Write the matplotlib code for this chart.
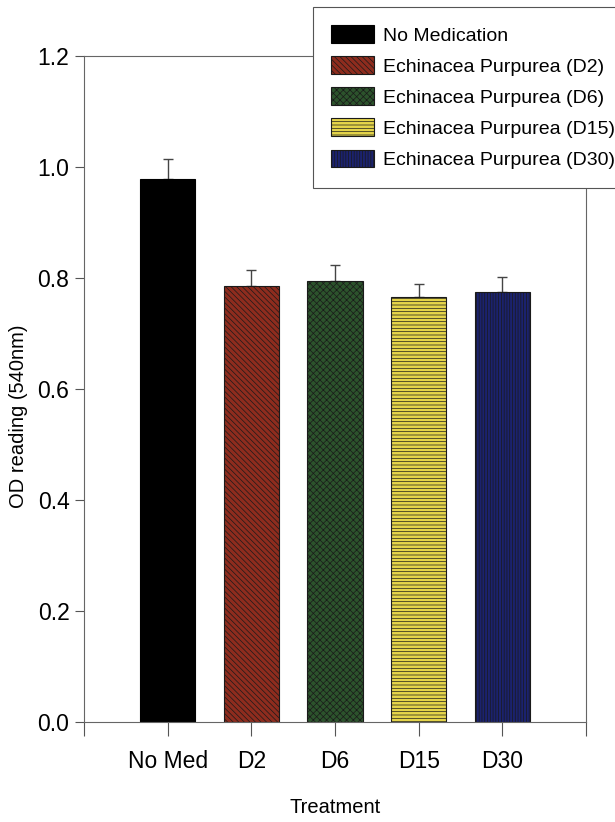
import matplotlib
matplotlib.use("Agg")
import matplotlib.pyplot as plt

categories = ["No Med", "D2", "D6", "D15", "D30"]
legend_labels = ["No Medication", "Echinacea Purpurea (D2)", "Echinacea Purpurea (D6)",
                 "Echinacea Purpurea (D15)", "Echinacea Purpurea (D30)"]
values = [0.978, 0.786, 0.795, 0.765, 0.774]
errors = [0.036, 0.028, 0.028, 0.024, 0.027]
colors = ["#000000", "#8e2c1e", "#2c532c", "#e4d44a", "#1b226e"]
hatches = [None, "\\\\\\\\\\\\", "xxxxx", "-----", "||||||"]
yticks = [0.0, 0.2, 0.4, 0.6, 0.8, 1.0, 1.2]

plt.rcParams['font.family'] = ['Liberation Sans', 'DejaVu Sans']
plt.rcParams['hatch.linewidth'] = 0.5

fig = plt.figure(figsize=(6.15, 8.22), dpi=100)
ax = fig.add_axes([84/615, 1-722/822, 502/615, 666.3/822])

x = list(range(1, len(categories)+1))
for i in range(len(categories)):
    ax.bar(x[i], values[i], width=0.66, color=colors[i],
           edgecolor="#1a1a1a" if i else "#000000", linewidth=0.8,
           hatch=hatches[i], label=legend_labels[i], zorder=2)
    ax.errorbar(x[i], values[i], yerr=[[0], [errors[i]]], fmt='none',
                ecolor="#444444", elinewidth=1.0, capsize=3.5, capthick=1.0, zorder=1)

ax.set_xlim(0, 6)
ax.set_ylim(0, 1.2)
ax.set_yticks(yticks)
ax.set_yticklabels([f"{v:.1f}" for v in yticks], fontsize=16.5)
ax.set_xticks(x)
ax.set_xticklabels(categories, fontsize=16.5)
ax.set_xticks([0, 6], minor=True)
ax.tick_params(axis='x', which='both', direction='out', length=10, width=0.8, color="#555555", pad=10)
ax.tick_params(axis='y', direction='out', length=6.5, width=0.8, color="#555555", pad=4)
for s in ax.spines.values():
    s.set_color("#666666")
    s.set_linewidth(0.8)

ax.set_ylabel("OD reading (540nm)", fontsize=14.5)
ax.yaxis.set_label_coords(-0.13, 0.459)
ax.set_xlabel("Treatment", fontsize=14.5)
ax.xaxis.set_label_coords(0.5, -0.129)
ax.xaxis.label.set_va('center')
ax.yaxis.label.set_va('center')

leg = fig.legend(loc='upper left', bbox_to_anchor=(313/615, 1-7/822), fontsize=14,
                 frameon=True, fancybox=False, edgecolor="#555555", framealpha=1,
                 handlelength=2.2, handleheight=1.03, handletextpad=0.45,
                 labelspacing=0.59, borderpad=0.95, borderaxespad=0)
leg.get_frame().set_linewidth(0.8)

fig.savefig("out.png", dpi=100)
